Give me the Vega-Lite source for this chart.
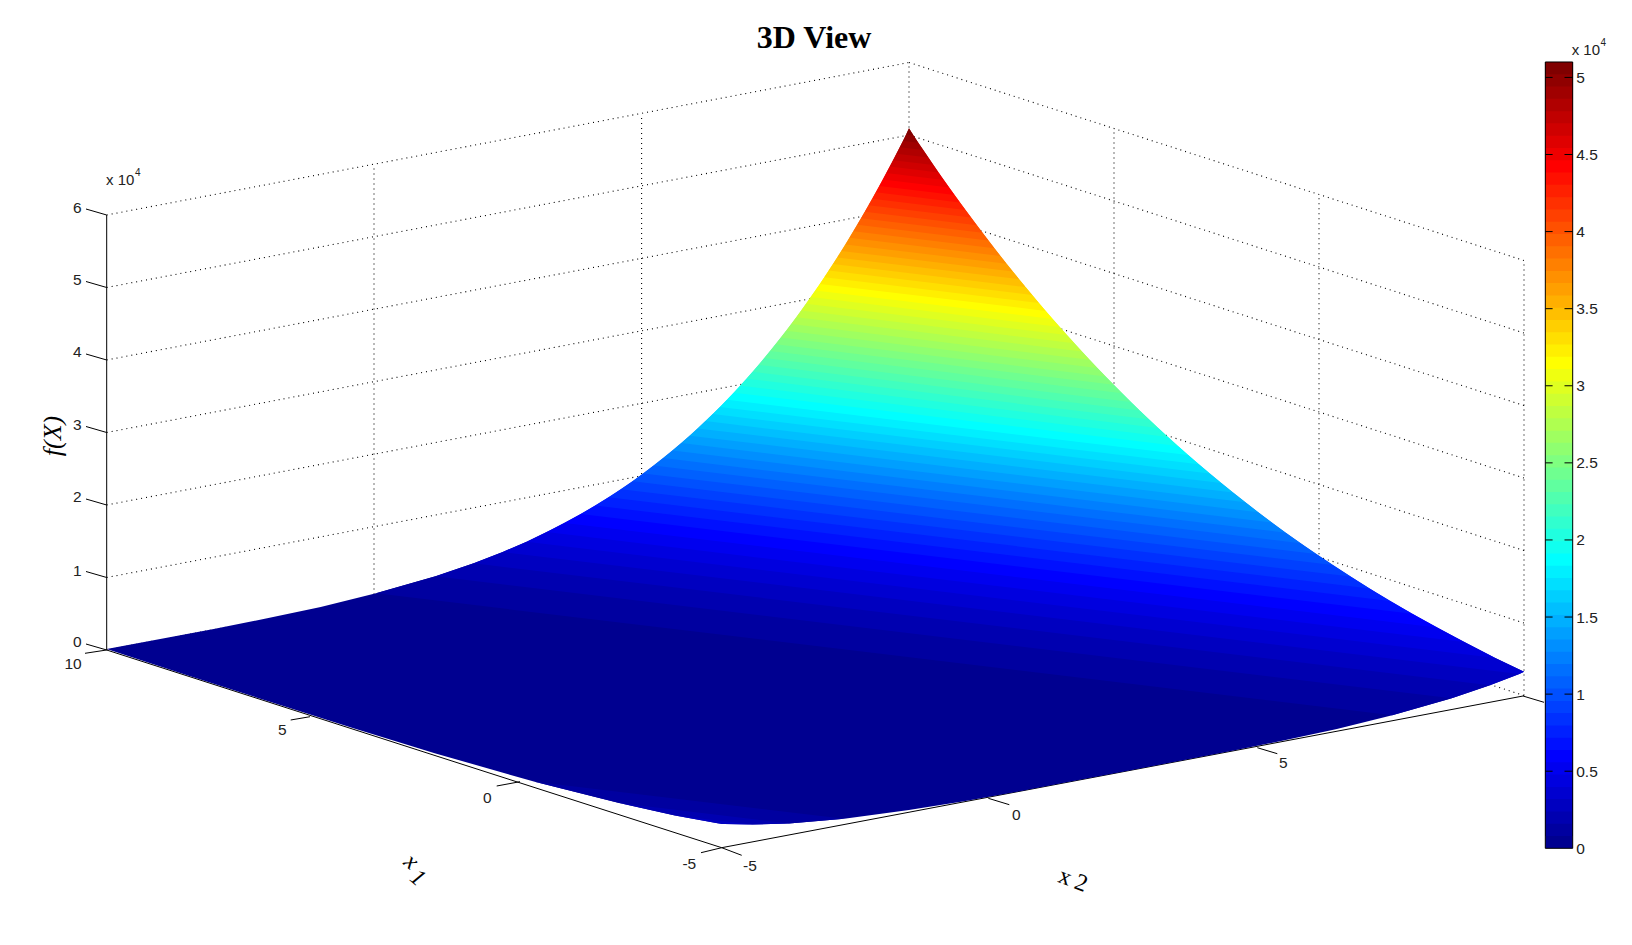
{"$schema":"https://vega.github.io/schema/vega-lite/v6.json","width":1632,"height":945,"padding":0,"autosize":{"type":"none"},"background":"white","config":{"view":{"stroke":null}},
"title":{"text":"3D View","font":"Liberation Serif","fontSize":32,"fontWeight":"bold","color":"#000","anchor":"middle","offset":0,"dy":80,"dx":-2,"baseline":"alphabetic"},
"datasets":{
"surface":[
{"b":0,"o":1,"px":106.7,"py":649.1,"f":0.04},{"b":0,"o":2,"px":160.2,"py":639,"f":0.04},{"b":0,"o":3,"px":213.7,"py":628.9,"f":0.04},{"b":0,"o":4,"px":267.2,"py":618.3,"f":0.04},{"b":0,"o":5,"px":320.7,"py":606.9,"f":0.04},{"b":0,"o":6,"px":376,"py":593.3,"f":0.04},{"b":0,"o":7,"px":435.5,"py":576.3,"f":0.04},{"b":0,"o":8,"px":1451.7,"py":698.2,"f":0.04},{"b":0,"o":9,"px":1392.2,"py":715.2,"f":0.04},{"b":0,"o":10,"px":1336.9,"py":729,"f":0.04},{"b":0,"o":11,"px":1283.4,"py":740.6,"f":0.04},{"b":0,"o":12,"px":1229.9,"py":751.2,"f":0.04},{"b":0,"o":13,"px":1176.4,"py":761.5,"f":0.04},{"b":0,"o":14,"px":1122.9,"py":771.7,"f":0.04},{"b":0,"o":15,"px":1069.4,"py":781.8,"f":0.04},{"b":0,"o":16,"px":1015.9,"py":792,"f":0.04},{"b":0,"o":17,"px":962.4,"py":801.4,"f":0.04},{"b":0,"o":18,"px":908.9,"py":810.1,"f":0.04},{"b":0,"o":19,"px":844.2,"py":818.8,"f":0.04},{"b":0,"o":20,"px":789.1,"py":823.4,"f":0.04},{"b":0,"o":21,"px":619.2,"py":803.1,"f":0.04},{"b":0,"o":22,"px":534.7,"py":781.8,"f":0.04},{"b":0,"o":23,"px":434.7,"py":753.2,"f":0.04},{"b":0,"o":24,"px":352.7,"py":728.1,"f":0.04},{"b":0,"o":25,"px":270.7,"py":702.1,"f":0.04},{"b":0,"o":26,"px":188.7,"py":675.7,"f":0.04},
{"b":101,"o":1,"px":534.7,"py":781.8,"f":0.12},{"b":101,"o":2,"px":844.2,"py":818.8,"f":0.12},{"b":101,"o":3,"px":789.1,"py":823.4,"f":0.12},{"b":101,"o":4,"px":752.2,"py":824.6,"f":0.12},{"b":101,"o":5,"px":675,"py":815.4,"f":0.12},{"b":101,"o":6,"px":619.2,"py":803.1,"f":0.12},
{"b":102,"o":1,"px":619.2,"py":803.1,"f":0.199},{"b":102,"o":2,"px":789.1,"py":823.4,"f":0.199},{"b":102,"o":3,"px":752.2,"py":824.6,"f":0.199},{"b":102,"o":4,"px":724.4,"py":824.1,"f":0.199},{"b":102,"o":5,"px":717.6,"py":823.3,"f":0.199},{"b":102,"o":6,"px":675,"py":815.4,"f":0.199},
{"b":103,"o":1,"px":675,"py":815.4,"f":0.279},{"b":103,"o":2,"px":752.2,"py":824.6,"f":0.279},{"b":103,"o":3,"px":724.4,"py":824.1,"f":0.279},{"b":103,"o":4,"px":721.7,"py":824,"f":0.279},{"b":103,"o":5,"px":717.6,"py":823.3,"f":0.279},
{"b":1,"o":1,"px":376,"py":593.3,"f":0.12},{"b":1,"o":2,"px":435.5,"py":576.3,"f":0.12},{"b":1,"o":3,"px":473.7,"py":563.3,"f":0.12},{"b":1,"o":4,"px":1489.9,"py":685.2,"f":0.12},{"b":1,"o":5,"px":1451.7,"py":698.2,"f":0.12},{"b":1,"o":6,"px":1392.2,"py":715.2,"f":0.12},
{"b":2,"o":1,"px":435.5,"py":576.3,"f":0.199},{"b":2,"o":2,"px":473.7,"py":563.3,"f":0.199},{"b":2,"o":3,"px":502.7,"py":552,"f":0.199},{"b":2,"o":4,"px":1519.3,"py":673.9,"f":0.199},{"b":2,"o":5,"px":1489.9,"py":685.2,"f":0.199},{"b":2,"o":6,"px":1451.7,"py":698.2,"f":0.199},
{"b":3,"o":1,"px":473.7,"py":563.3,"f":0.279},{"b":3,"o":2,"px":502.7,"py":552,"f":0.279},{"b":3,"o":3,"px":526.6,"py":541.7,"f":0.279},{"b":3,"o":4,"px":1495.3,"py":657.9,"f":0.279},{"b":3,"o":5,"px":1524.1,"py":671.8,"f":0.279},{"b":3,"o":6,"px":1519.3,"py":673.9,"f":0.279},{"b":3,"o":7,"px":1489.9,"py":685.2,"f":0.279},
{"b":4,"o":1,"px":502.7,"py":552,"f":0.359},{"b":4,"o":2,"px":526.6,"py":541.7,"f":0.359},{"b":4,"o":3,"px":546.9,"py":532.1,"f":0.359},{"b":4,"o":4,"px":1464.1,"py":642.1,"f":0.359},{"b":4,"o":5,"px":1495.3,"py":657.9,"f":0.359},{"b":4,"o":6,"px":1524.1,"py":671.8,"f":0.359},{"b":4,"o":7,"px":1519.3,"py":673.9,"f":0.359},
{"b":5,"o":1,"px":526.6,"py":541.7,"f":0.438},{"b":5,"o":2,"px":564.8,"py":522.9,"f":0.438},{"b":5,"o":3,"px":1436.8,"py":627.5,"f":0.438},{"b":5,"o":4,"px":1495.3,"py":657.9,"f":0.438},
{"b":6,"o":1,"px":546.9,"py":532.1,"f":0.518},{"b":6,"o":2,"px":580.8,"py":514.1,"f":0.518},{"b":6,"o":3,"px":1412.2,"py":613.7,"f":0.518},{"b":6,"o":4,"px":1464.1,"py":642.1,"f":0.518},
{"b":7,"o":1,"px":564.8,"py":522.9,"f":0.598},{"b":7,"o":2,"px":595.4,"py":505.6,"f":0.598},{"b":7,"o":3,"px":1389.8,"py":600.9,"f":0.598},{"b":7,"o":4,"px":1436.8,"py":627.5,"f":0.598},
{"b":8,"o":1,"px":580.8,"py":514.1,"f":0.677},{"b":8,"o":2,"px":608.7,"py":497.3,"f":0.677},{"b":8,"o":3,"px":1369.4,"py":588.5,"f":0.677},{"b":8,"o":4,"px":1412.2,"py":613.7,"f":0.677},
{"b":9,"o":1,"px":595.4,"py":505.6,"f":0.757},{"b":9,"o":2,"px":621.1,"py":489.2,"f":0.757},{"b":9,"o":3,"px":1350.5,"py":576.6,"f":0.757},{"b":9,"o":4,"px":1389.8,"py":600.9,"f":0.757},
{"b":10,"o":1,"px":608.7,"py":497.3,"f":0.837},{"b":10,"o":2,"px":632.6,"py":481.2,"f":0.837},{"b":10,"o":3,"px":1332.8,"py":565.1,"f":0.837},{"b":10,"o":4,"px":1369.4,"py":588.5,"f":0.837},
{"b":11,"o":1,"px":621.1,"py":489.2,"f":0.916},{"b":11,"o":2,"px":643.4,"py":473.4,"f":0.916},{"b":11,"o":3,"px":1316.2,"py":554,"f":0.916},{"b":11,"o":4,"px":1350.5,"py":576.6,"f":0.916},
{"b":12,"o":1,"px":632.6,"py":481.2,"f":0.996},{"b":12,"o":2,"px":653.6,"py":465.6,"f":0.996},{"b":12,"o":3,"px":1300.5,"py":543.2,"f":0.996},{"b":12,"o":4,"px":1332.8,"py":565.1,"f":0.996},
{"b":13,"o":1,"px":643.4,"py":473.4,"f":1.076},{"b":13,"o":2,"px":663.3,"py":458.1,"f":1.076},{"b":13,"o":3,"px":1285.7,"py":532.7,"f":1.076},{"b":13,"o":4,"px":1316.2,"py":554,"f":1.076},
{"b":14,"o":1,"px":653.6,"py":465.6,"f":1.155},{"b":14,"o":2,"px":672.5,"py":450.6,"f":1.155},{"b":14,"o":3,"px":1271.6,"py":522.4,"f":1.155},{"b":14,"o":4,"px":1300.5,"py":543.2,"f":1.155},
{"b":15,"o":1,"px":663.3,"py":458.1,"f":1.235},{"b":15,"o":2,"px":681.3,"py":443.1,"f":1.235},{"b":15,"o":3,"px":1258.2,"py":512.2,"f":1.235},{"b":15,"o":4,"px":1285.7,"py":532.7,"f":1.235},
{"b":16,"o":1,"px":672.5,"py":450.6,"f":1.315},{"b":16,"o":2,"px":689.7,"py":435.7,"f":1.315},{"b":16,"o":3,"px":1245.3,"py":502.3,"f":1.315},{"b":16,"o":4,"px":1271.6,"py":522.4,"f":1.315},
{"b":17,"o":1,"px":681.3,"py":443.1,"f":1.395},{"b":17,"o":2,"px":697.7,"py":428.4,"f":1.395},{"b":17,"o":3,"px":1233,"py":492.6,"f":1.395},{"b":17,"o":4,"px":1258.2,"py":512.2,"f":1.395},
{"b":18,"o":1,"px":689.7,"py":435.7,"f":1.474},{"b":18,"o":2,"px":705.4,"py":421.1,"f":1.474},{"b":18,"o":3,"px":1221.2,"py":483,"f":1.474},{"b":18,"o":4,"px":1245.3,"py":502.3,"f":1.474},
{"b":19,"o":1,"px":697.7,"py":428.4,"f":1.554},{"b":19,"o":2,"px":712.9,"py":414,"f":1.554},{"b":19,"o":3,"px":1209.8,"py":473.6,"f":1.554},{"b":19,"o":4,"px":1233,"py":492.6,"f":1.554},
{"b":20,"o":1,"px":705.4,"py":421.1,"f":1.634},{"b":20,"o":2,"px":720,"py":406.9,"f":1.634},{"b":20,"o":3,"px":1198.8,"py":464.3,"f":1.634},{"b":20,"o":4,"px":1221.2,"py":483,"f":1.634},
{"b":21,"o":1,"px":712.9,"py":414,"f":1.713},{"b":21,"o":2,"px":727,"py":399.8,"f":1.713},{"b":21,"o":3,"px":1188.1,"py":455,"f":1.713},{"b":21,"o":4,"px":1209.8,"py":473.6,"f":1.713},
{"b":22,"o":1,"px":720,"py":406.9,"f":1.793},{"b":22,"o":2,"px":733.7,"py":392.7,"f":1.793},{"b":22,"o":3,"px":1177.9,"py":445.9,"f":1.793},{"b":22,"o":4,"px":1198.8,"py":464.3,"f":1.793},
{"b":23,"o":1,"px":727,"py":399.8,"f":1.873},{"b":23,"o":2,"px":740.2,"py":385.7,"f":1.873},{"b":23,"o":3,"px":1167.9,"py":436.9,"f":1.873},{"b":23,"o":4,"px":1188.1,"py":455,"f":1.873},
{"b":24,"o":1,"px":733.7,"py":392.7,"f":1.952},{"b":24,"o":2,"px":746.5,"py":378.7,"f":1.952},{"b":24,"o":3,"px":1158.2,"py":428,"f":1.952},{"b":24,"o":4,"px":1177.9,"py":445.9,"f":1.952},
{"b":25,"o":1,"px":740.2,"py":385.7,"f":2.032},{"b":25,"o":2,"px":752.6,"py":371.8,"f":2.032},{"b":25,"o":3,"px":1148.8,"py":419.3,"f":2.032},{"b":25,"o":4,"px":1167.9,"py":436.9,"f":2.032},
{"b":26,"o":1,"px":746.5,"py":378.7,"f":2.112},{"b":26,"o":2,"px":758.6,"py":364.9,"f":2.112},{"b":26,"o":3,"px":1139.7,"py":410.5,"f":2.112},{"b":26,"o":4,"px":1158.2,"py":428,"f":2.112},
{"b":27,"o":1,"px":752.6,"py":371.8,"f":2.191},{"b":27,"o":2,"px":764.4,"py":358,"f":2.191},{"b":27,"o":3,"px":1130.8,"py":401.9,"f":2.191},{"b":27,"o":4,"px":1148.8,"py":419.3,"f":2.191},
{"b":28,"o":1,"px":758.6,"py":364.9,"f":2.271},{"b":28,"o":2,"px":770,"py":351.1,"f":2.271},{"b":28,"o":3,"px":1122.2,"py":393.3,"f":2.271},{"b":28,"o":4,"px":1139.7,"py":410.5,"f":2.271},
{"b":29,"o":1,"px":764.4,"py":358,"f":2.351},{"b":29,"o":2,"px":775.5,"py":344.3,"f":2.351},{"b":29,"o":3,"px":1113.8,"py":384.8,"f":2.351},{"b":29,"o":4,"px":1130.8,"py":401.9,"f":2.351},
{"b":30,"o":1,"px":770,"py":351.1,"f":2.43},{"b":30,"o":2,"px":780.9,"py":337.5,"f":2.43},{"b":30,"o":3,"px":1105.5,"py":376.4,"f":2.43},{"b":30,"o":4,"px":1122.2,"py":393.3,"f":2.43},
{"b":31,"o":1,"px":775.5,"py":344.3,"f":2.51},{"b":31,"o":2,"px":786.1,"py":330.8,"f":2.51},{"b":31,"o":3,"px":1097.4,"py":368.1,"f":2.51},{"b":31,"o":4,"px":1113.8,"py":384.8,"f":2.51},
{"b":32,"o":1,"px":780.9,"py":337.5,"f":2.59},{"b":32,"o":2,"px":791.3,"py":324,"f":2.59},{"b":32,"o":3,"px":1089.6,"py":359.7,"f":2.59},{"b":32,"o":4,"px":1105.5,"py":376.4,"f":2.59},
{"b":33,"o":1,"px":786.1,"py":330.8,"f":2.67},{"b":33,"o":2,"px":796.3,"py":317.3,"f":2.67},{"b":33,"o":3,"px":1081.9,"py":351.5,"f":2.67},{"b":33,"o":4,"px":1097.4,"py":368.1,"f":2.67},
{"b":34,"o":1,"px":791.3,"py":324,"f":2.749},{"b":34,"o":2,"px":801.2,"py":310.5,"f":2.749},{"b":34,"o":3,"px":1074.4,"py":343.3,"f":2.749},{"b":34,"o":4,"px":1089.6,"py":359.7,"f":2.749},
{"b":35,"o":1,"px":796.3,"py":317.3,"f":2.829},{"b":35,"o":2,"px":806,"py":303.8,"f":2.829},{"b":35,"o":3,"px":1067,"py":335.1,"f":2.829},{"b":35,"o":4,"px":1081.9,"py":351.5,"f":2.829},
{"b":36,"o":1,"px":801.2,"py":310.5,"f":2.909},{"b":36,"o":2,"px":810.7,"py":297.1,"f":2.909},{"b":36,"o":3,"px":1059.7,"py":326.9,"f":2.909},{"b":36,"o":4,"px":1074.4,"py":343.3,"f":2.909},
{"b":37,"o":1,"px":806,"py":303.8,"f":2.988},{"b":37,"o":2,"px":815.3,"py":290.6,"f":2.988},{"b":37,"o":3,"px":1052.7,"py":319,"f":2.988},{"b":37,"o":4,"px":1067,"py":335.1,"f":2.988},
{"b":38,"o":1,"px":810.7,"py":297.1,"f":3.068},{"b":38,"o":2,"px":819.9,"py":283.9,"f":3.068},{"b":38,"o":3,"px":1045.7,"py":310.9,"f":3.068},{"b":38,"o":4,"px":1059.7,"py":326.9,"f":3.068},
{"b":39,"o":1,"px":815.3,"py":290.6,"f":3.148},{"b":39,"o":2,"px":824.3,"py":277.3,"f":3.148},{"b":39,"o":3,"px":1038.9,"py":303,"f":3.148},{"b":39,"o":4,"px":1052.7,"py":319,"f":3.148},
{"b":40,"o":1,"px":819.9,"py":283.9,"f":3.227},{"b":40,"o":2,"px":828.7,"py":270.6,"f":3.227},{"b":40,"o":3,"px":1032.2,"py":295,"f":3.227},{"b":40,"o":4,"px":1045.7,"py":310.9,"f":3.227},
{"b":41,"o":1,"px":824.3,"py":277.3,"f":3.307},{"b":41,"o":2,"px":833,"py":264,"f":3.307},{"b":41,"o":3,"px":1025.6,"py":287.1,"f":3.307},{"b":41,"o":4,"px":1038.9,"py":303,"f":3.307},
{"b":42,"o":1,"px":828.7,"py":270.6,"f":3.387},{"b":42,"o":2,"px":837.2,"py":257.4,"f":3.387},{"b":42,"o":3,"px":1019.1,"py":279.2,"f":3.387},{"b":42,"o":4,"px":1032.2,"py":295,"f":3.387},
{"b":43,"o":1,"px":833,"py":264,"f":3.466},{"b":43,"o":2,"px":841.3,"py":250.9,"f":3.466},{"b":43,"o":3,"px":1012.8,"py":271.5,"f":3.466},{"b":43,"o":4,"px":1025.6,"py":287.1,"f":3.466},
{"b":44,"o":1,"px":837.2,"py":257.4,"f":3.546},{"b":44,"o":2,"px":845.4,"py":244.4,"f":3.546},{"b":44,"o":3,"px":1006.6,"py":263.7,"f":3.546},{"b":44,"o":4,"px":1019.1,"py":279.2,"f":3.546},
{"b":45,"o":1,"px":841.3,"py":250.9,"f":3.626},{"b":45,"o":2,"px":849.4,"py":237.8,"f":3.626},{"b":45,"o":3,"px":1000.4,"py":255.9,"f":3.626},{"b":45,"o":4,"px":1012.8,"py":271.5,"f":3.626},
{"b":46,"o":1,"px":845.4,"py":244.4,"f":3.705},{"b":46,"o":2,"px":853.3,"py":231.3,"f":3.705},{"b":46,"o":3,"px":994.4,"py":248.2,"f":3.705},{"b":46,"o":4,"px":1006.6,"py":263.7,"f":3.705},
{"b":47,"o":1,"px":849.4,"py":237.8,"f":3.785},{"b":47,"o":2,"px":857.2,"py":224.7,"f":3.785},{"b":47,"o":3,"px":988.5,"py":240.4,"f":3.785},{"b":47,"o":4,"px":1000.4,"py":255.9,"f":3.785},
{"b":48,"o":1,"px":853.3,"py":231.3,"f":3.865},{"b":48,"o":2,"px":861,"py":218.2,"f":3.865},{"b":48,"o":3,"px":982.6,"py":232.8,"f":3.865},{"b":48,"o":4,"px":994.4,"py":248.2,"f":3.865},
{"b":49,"o":1,"px":857.2,"py":224.7,"f":3.945},{"b":49,"o":2,"px":864.8,"py":211.8,"f":3.945},{"b":49,"o":3,"px":976.8,"py":225.2,"f":3.945},{"b":49,"o":4,"px":988.5,"py":240.4,"f":3.945},
{"b":50,"o":1,"px":861,"py":218.2,"f":4.024},{"b":50,"o":2,"px":868.5,"py":205.3,"f":4.024},{"b":50,"o":3,"px":971.2,"py":217.6,"f":4.024},{"b":50,"o":4,"px":982.6,"py":232.8,"f":4.024},
{"b":51,"o":1,"px":864.8,"py":211.8,"f":4.104},{"b":51,"o":2,"px":872.2,"py":198.8,"f":4.104},{"b":51,"o":3,"px":965.5,"py":210,"f":4.104},{"b":51,"o":4,"px":976.8,"py":225.2,"f":4.104},
{"b":52,"o":1,"px":868.5,"py":205.3,"f":4.184},{"b":52,"o":2,"px":875.8,"py":192.3,"f":4.184},{"b":52,"o":3,"px":960,"py":202.4,"f":4.184},{"b":52,"o":4,"px":971.2,"py":217.6,"f":4.184},
{"b":53,"o":1,"px":872.2,"py":198.8,"f":4.263},{"b":53,"o":2,"px":879.3,"py":185.9,"f":4.263},{"b":53,"o":3,"px":954.6,"py":194.9,"f":4.263},{"b":53,"o":4,"px":965.5,"py":210,"f":4.263},
{"b":54,"o":1,"px":875.8,"py":192.3,"f":4.343},{"b":54,"o":2,"px":882.8,"py":179.5,"f":4.343},{"b":54,"o":3,"px":949.2,"py":187.4,"f":4.343},{"b":54,"o":4,"px":960,"py":202.4,"f":4.343},
{"b":55,"o":1,"px":879.3,"py":185.9,"f":4.423},{"b":55,"o":2,"px":886.3,"py":173,"f":4.423},{"b":55,"o":3,"px":943.8,"py":179.9,"f":4.423},{"b":55,"o":4,"px":954.6,"py":194.9,"f":4.423},
{"b":56,"o":1,"px":882.8,"py":179.5,"f":4.502},{"b":56,"o":2,"px":889.7,"py":166.6,"f":4.502},{"b":56,"o":3,"px":938.6,"py":172.4,"f":4.502},{"b":56,"o":4,"px":949.2,"py":187.4,"f":4.502},
{"b":57,"o":1,"px":886.3,"py":173,"f":4.582},{"b":57,"o":2,"px":893.1,"py":160.2,"f":4.582},{"b":57,"o":3,"px":933.4,"py":165,"f":4.582},{"b":57,"o":4,"px":943.8,"py":179.9,"f":4.582},
{"b":58,"o":1,"px":889.7,"py":166.6,"f":4.662},{"b":58,"o":2,"px":896.4,"py":153.7,"f":4.662},{"b":58,"o":3,"px":928.4,"py":157.5,"f":4.662},{"b":58,"o":4,"px":938.6,"py":172.4,"f":4.662},
{"b":59,"o":1,"px":893.1,"py":160.2,"f":4.741},{"b":59,"o":2,"px":899.7,"py":147.3,"f":4.741},{"b":59,"o":3,"px":923.3,"py":150.1,"f":4.741},{"b":59,"o":4,"px":933.4,"py":165,"f":4.741},
{"b":60,"o":1,"px":896.4,"py":153.7,"f":4.821},{"b":60,"o":2,"px":903,"py":141,"f":4.821},{"b":60,"o":3,"px":918.3,"py":142.8,"f":4.821},{"b":60,"o":4,"px":928.4,"py":157.5,"f":4.821},
{"b":61,"o":1,"px":899.7,"py":147.3,"f":4.901},{"b":61,"o":2,"px":906.2,"py":134.6,"f":4.901},{"b":61,"o":3,"px":913.4,"py":135.4,"f":4.901},{"b":61,"o":4,"px":923.3,"py":150.1,"f":4.901},
{"b":62,"o":1,"px":903,"py":141,"f":4.98},{"b":62,"o":2,"px":909,"py":128.2,"f":4.98},{"b":62,"o":3,"px":918.3,"py":142.8,"f":4.98},
{"b":63,"o":1,"px":906.2,"py":134.6,"f":5.06},{"b":63,"o":2,"px":909,"py":128.2,"f":5.06},{"b":63,"o":3,"px":913.4,"py":135.4,"f":5.06}
],
"walls":[
{"px":106.7,"py":650,"qx":909,"qy":497.5},{"px":106.7,"py":577.5,"qx":909,"qy":425},{"px":106.7,"py":505,"qx":909,"qy":352.5},{"px":106.7,"py":432.5,"qx":909,"qy":280},{"px":106.7,"py":360,"qx":909,"qy":207.5},{"px":106.7,"py":287.5,"qx":909,"qy":135},{"px":106.7,"py":215,"qx":909,"qy":62.5},
{"px":909,"py":497.5,"qx":1524,"qy":695.5},{"px":909,"py":425,"qx":1524,"qy":623},{"px":909,"py":352.5,"qx":1524,"qy":550.5},{"px":909,"py":280,"qx":1524,"qy":478},{"px":909,"py":207.5,"qx":1524,"qy":405.5},{"px":909,"py":135,"qx":1524,"qy":333},{"px":909,"py":62.5,"qx":1524,"qy":260.5},
{"px":374,"py":599.5,"qx":374,"qy":164.5},{"px":641.6,"py":549,"qx":641.6,"qy":114},{"px":909,"py":497.5,"qx":909,"qy":62.5},{"px":1114,"py":563.4,"qx":1114,"qy":128.4},{"px":1319,"py":629.3,"qx":1319,"qy":194.3},{"px":1524,"py":695.5,"qx":1524,"qy":260.5}
],
"axes":[
{"px":106.7,"py":215,"qx":106.7,"qy":650},{"px":106.7,"py":650,"qx":721.7,"qy":847.7},{"px":721.7,"py":847.7,"qx":1523,"qy":696},
{"px":86,"py":209,"qx":106.7,"qy":215},{"px":86,"py":281.5,"qx":106.7,"qy":287.5},{"px":86,"py":354,"qx":106.7,"qy":360},{"px":86,"py":426.5,"qx":106.7,"qy":432.5},{"px":86,"py":499,"qx":106.7,"qy":505},{"px":86,"py":571.5,"qx":106.7,"qy":577.5},{"px":86,"py":644,"qx":106.7,"qy":650},
{"px":85,"py":653.3,"qx":106.7,"qy":650},{"px":290.7,"py":720,"qx":310,"qy":716.7},{"px":496.7,"py":786,"qx":520,"qy":781.7},{"px":701,"py":852.7,"qx":721.7,"qy":847.7},
{"px":721.7,"py":847.7,"qx":741.7,"qy":855.3},{"px":988.3,"py":798.3,"qx":1009.3,"qy":804.7},{"px":1257.3,"py":747.7,"qx":1277.3,"qy":753.7},{"px":1523,"py":696,"qx":1544,"qy":702.3}
]
},
"layer":[
{"layer":[
{"data":{"name":"walls"},"mark":{"type":"rule","color":"#000","strokeWidth":1.1,"strokeDash":[1,4]},"encoding":{"x":{"field":"px","type":"quantitative","scale":{"domain":[0,1632],"nice":false,"zero":false},"axis":null},"y":{"field":"py","type":"quantitative","scale":{"domain":[945,0],"nice":false,"zero":false},"axis":null},"x2":{"field":"qx"},"y2":{"field":"qy"}}},
{"data":{"name":"axes"},"mark":{"type":"rule","color":"#000","strokeWidth":1},"encoding":{"x":{"field":"px","type":"quantitative"},"y":{"field":"py","type":"quantitative"},"x2":{"field":"qx"},"y2":{"field":"qy"}}},
{"data":{"name":"surface"},"mark":{"type":"line","filled":true,"strokeWidth":0,"interpolate":"linear"},"encoding":{"x":{"field":"px","type":"quantitative"},"y":{"field":"py","type":"quantitative"},"detail":{"field":"b","type":"nominal"},"order":{"field":"o","type":"quantitative"},"color":{"field":"f","type":"quantitative","legend":null,"scale":{"domain":[0.0398,0.5977,1.8727,3.1477,4.4227,5.0602],"range":["#000090","#0000ff","#00ffff","#ffff00","#ff0000","#800000"],"interpolate":"rgb","clamp":true}}}},
{"data":{"values":[{"px":77.3,"py":208,"t":"6"},{"px":77.3,"py":280,"t":"5"},{"px":77.3,"py":352,"t":"4"},{"px":77.3,"py":425,"t":"3"},{"px":77.3,"py":497,"t":"2"},{"px":77.3,"py":571,"t":"1"},{"px":77.3,"py":642,"t":"0"},{"px":73,"py":664,"t":"10"},{"px":282.3,"py":730,"t":"5"},{"px":487.3,"py":798,"t":"0"},{"px":689.3,"py":864,"t":"-5"},{"px":750,"py":866,"t":"-5"},{"px":1016.3,"py":815,"t":"0"},{"px":1283.3,"py":763.3,"t":"5"}]},"mark":{"type":"text","font":"Liberation Sans","fontSize":15.5,"color":"#222","align":"center","baseline":"middle"},"encoding":{"x":{"field":"px","type":"quantitative"},"y":{"field":"py","type":"quantitative"},"text":{"field":"t"}}},
{"data":{"values":[{"px":106,"py":185,"t":"x 10"},{"px":1571.7,"py":55,"t":"x 10"}]},"mark":{"type":"text","font":"Liberation Sans","fontSize":15,"color":"#222","align":"left","baseline":"alphabetic"},"encoding":{"x":{"field":"px","type":"quantitative"},"y":{"field":"py","type":"quantitative"},"text":{"field":"t"}}},
{"data":{"values":[{"px":135,"py":176,"t":"4"},{"px":1600.5,"py":46,"t":"4"}]},"mark":{"type":"text","font":"Liberation Sans","fontSize":10,"color":"#222","align":"left","baseline":"alphabetic"},"encoding":{"x":{"field":"px","type":"quantitative"},"y":{"field":"py","type":"quantitative"},"text":{"field":"t"}}},
{"data":{"values":[{"px":53,"py":436,"t":"f(X)"}]},"mark":{"type":"text","font":"Liberation Serif","fontStyle":"italic","fontSize":26,"color":"#000","align":"center","baseline":"middle","angle":270},"encoding":{"x":{"field":"px","type":"quantitative"},"y":{"field":"py","type":"quantitative"},"text":{"field":"t"}}},
{"data":{"values":[{"px":411,"py":861.7,"t":"x"},{"px":417.5,"py":878,"t":"1"}]},"mark":{"type":"text","font":"Liberation Serif","fontStyle":"italic","fontSize":24,"color":"#000","align":"center","baseline":"middle","angle":40},"encoding":{"x":{"field":"px","type":"quantitative"},"y":{"field":"py","type":"quantitative"},"text":{"field":"t"}}},
{"data":{"values":[{"px":1065,"py":877.3,"t":"x"},{"px":1081,"py":883.5,"t":"2"}]},"mark":{"type":"text","font":"Liberation Serif","fontSize":24,"color":"#000","align":"center","baseline":"middle","angle":20},"encoding":{"x":{"field":"px","type":"quantitative"},"y":{"field":"py","type":"quantitative"},"text":{"field":"t"}}}
]},
{"layer":[
{"data":{"values":[{"v":0,"f":0.04},{"v":0.08,"f":0.12},{"v":0.159,"f":0.199},{"v":0.239,"f":0.279},{"v":0.319,"f":0.359},{"v":0.398,"f":0.438},{"v":0.478,"f":0.518},{"v":0.558,"f":0.598},{"v":0.637,"f":0.677},{"v":0.717,"f":0.757},{"v":0.797,"f":0.837},{"v":0.877,"f":0.916},{"v":0.956,"f":0.996},{"v":1.036,"f":1.076},{"v":1.116,"f":1.155},{"v":1.195,"f":1.235},{"v":1.275,"f":1.315},{"v":1.355,"f":1.395},{"v":1.434,"f":1.474},{"v":1.514,"f":1.554},{"v":1.594,"f":1.634},{"v":1.673,"f":1.713},{"v":1.753,"f":1.793},{"v":1.833,"f":1.873},{"v":1.912,"f":1.952},{"v":1.992,"f":2.032},{"v":2.072,"f":2.112},{"v":2.152,"f":2.191},{"v":2.231,"f":2.271},{"v":2.311,"f":2.351},{"v":2.391,"f":2.43},{"v":2.47,"f":2.51},{"v":2.55,"f":2.59},{"v":2.63,"f":2.67},{"v":2.709,"f":2.749},{"v":2.789,"f":2.829},{"v":2.869,"f":2.909},{"v":2.948,"f":2.988},{"v":3.028,"f":3.068},{"v":3.108,"f":3.148},{"v":3.188,"f":3.227},{"v":3.267,"f":3.307},{"v":3.347,"f":3.387},{"v":3.427,"f":3.466},{"v":3.506,"f":3.546},{"v":3.586,"f":3.626},{"v":3.666,"f":3.705},{"v":3.745,"f":3.785},{"v":3.825,"f":3.865},{"v":3.905,"f":3.945},{"v":3.984,"f":4.024},{"v":4.064,"f":4.104},{"v":4.144,"f":4.184},{"v":4.223,"f":4.263},{"v":4.303,"f":4.343},{"v":4.383,"f":4.423},{"v":4.463,"f":4.502},{"v":4.542,"f":4.582},{"v":4.622,"f":4.662},{"v":4.702,"f":4.741},{"v":4.781,"f":4.821},{"v":4.861,"f":4.901},{"v":4.941,"f":4.98},{"v":5.02,"f":5.06}]},"mark":{"type":"rect"},"encoding":{"x":{"datum":1545.3,"type":"quantitative"},"x2":{"datum":1572.7},"y":{"field":"v","type":"quantitative","scale":{"domain":[-0.6272,5.5021],"nice":false,"zero":false},"axis":{"orient":"right","offset":-59.3,"values":[0,0.5,1,1.5,2,2.5,3,3.5,4,4.5,5],"format":"~g","title":null,"domain":false,"ticks":false,"grid":false,"labelPadding":3,"labelFont":"Liberation Sans","labelFontSize":15.5,"labelColor":"#222"}},"y2":{"datum":5.1},"color":{"field":"f","type":"quantitative","legend":null}}},
{"data":{"values":[{"v":0.5},{"v":1},{"v":1.5},{"v":2},{"v":2.5},{"v":3},{"v":3.5},{"v":4},{"v":4.5},{"v":5}]},"mark":{"type":"rule","color":"#000","strokeWidth":1},"encoding":{"y":{"field":"v","type":"quantitative"},"x":{"datum":1545.3,"type":"quantitative"},"x2":{"datum":1552.6}}},
{"data":{"values":[{"v":0.5},{"v":1},{"v":1.5},{"v":2},{"v":2.5},{"v":3},{"v":3.5},{"v":4},{"v":4.5},{"v":5}]},"mark":{"type":"rule","color":"#000","strokeWidth":1},"encoding":{"y":{"field":"v","type":"quantitative"},"x":{"datum":1564.5,"type":"quantitative"},"x2":{"datum":1572.7}}},
{"data":{"values":[{"v":0}]},"mark":{"type":"rect","filled":false,"stroke":"#000","strokeWidth":1},"encoding":{"x":{"datum":1545.3,"type":"quantitative"},"x2":{"datum":1572.7},"y":{"field":"v","type":"quantitative"},"y2":{"datum":5.1}}}
]}
],
"resolve":{"scale":{"y":"independent"}}
}
